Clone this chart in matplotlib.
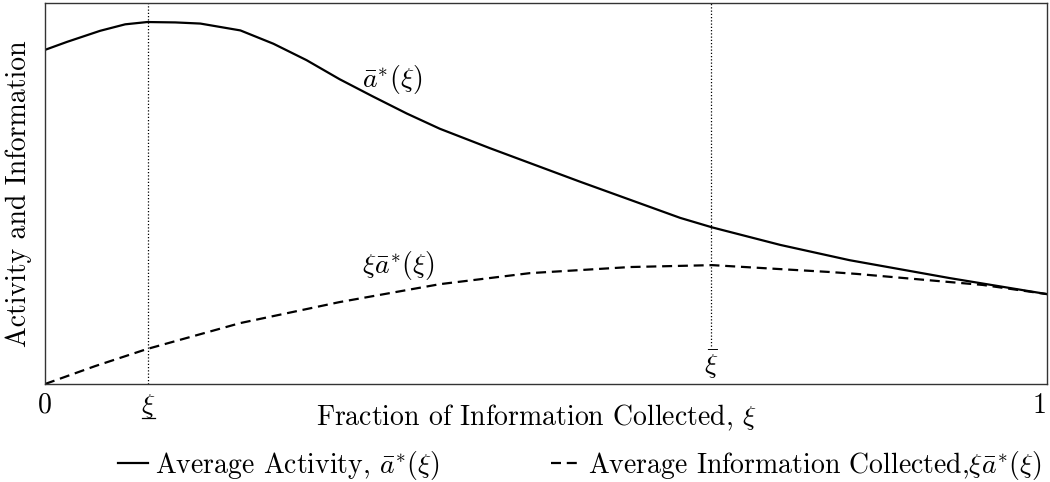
import matplotlib
matplotlib.use("Agg")
import matplotlib.pyplot as plt
import matplotlib.transforms as mtransforms

plt.rcParams['font.family'] = 'serif'
plt.rcParams['font.serif'] = ['cmr10']
plt.rcParams['mathtext.fontset'] = 'cm'
plt.rcParams['axes.formatter.use_mathtext'] = True

# values (y scaled so the top of the box is 1)
xi_act = [0.0, 0.022, 0.055, 0.080, 0.102, 0.130, 0.155, 0.195, 0.228, 0.261,
          0.294, 0.327, 0.361, 0.394, 0.444, 0.534, 0.634, 0.666, 0.734,
          0.803, 0.903, 1.0]
activity = [0.877, 0.898, 0.927, 0.944, 0.950, 0.949, 0.946, 0.928, 0.893, 0.850,
            0.800, 0.755, 0.710, 0.670, 0.619, 0.531, 0.436, 0.411, 0.365,
            0.325, 0.278, 0.236]

xi_info = [0.0, 0.050, 0.102, 0.195, 0.294, 0.394, 0.484, 0.584, 0.666, 0.783,
           0.810, 0.936, 1.0]
information = [0.0, 0.047, 0.092, 0.160, 0.215, 0.262, 0.291, 0.307, 0.312, 0.294,
               0.289, 0.260, 0.236]

xi_low = 0.103
xi_high = 0.665

FS = 20

fig = plt.figure(figsize=(10.5, 4.82), dpi=100)
ax = fig.add_axes([0.0429, 0.2033, 0.9541, 0.7905])

ax.plot(xi_act, activity, color='black', lw=1.6, label=r'Average Activity, $\bar{a}^{*}(\xi)$')
ax.plot(xi_info, information, color='black', lw=1.6, ls=(0, (4.5, 2.6)),
        label=r'Average Information Collected,$\xi\bar{a}^{*}(\xi)$')

ax.axvline(xi_low, color='black', lw=0.9, ls=(0, (1, 1.6)))
ax.axvline(xi_high, ymin=0.10, ymax=1, color='black', lw=0.9, ls=(0, (1, 1.6)))

ax.text(0.316, 0.80, r'$\bar{a}^{*}(\xi)$', fontsize=FS, va='center')
ax.text(0.316, 0.312, r'$\xi\bar{a}^{*}(\xi)$', fontsize=FS, va='center')
ax.text(xi_high, 0.05, r'$\bar{\xi}$', fontsize=FS, ha='center', va='center')

ax.set_xlim(0, 1)
ax.set_ylim(0, 1)
ax.set_yticks([])
ax.set_xticks([0, xi_low, 1])
ax.set_xticklabels(['0', r'$\xi$', '1'], fontsize=FS)
ax.get_xticklabels()[2].set_ha('right')
ax.tick_params(axis='x', length=0, pad=6)
# underline for the lower threshold label
trans = mtransforms.blended_transform_factory(ax.transData, ax.transAxes)
ax.plot([xi_low - 0.0065, xi_low + 0.0065], [-0.089, -0.089], color='black',
        lw=0.9, transform=trans, clip_on=False)
ax.set_xlabel(r'Fraction of Information Collected, $\xi$', fontsize=FS)
ax.xaxis.set_label_coords(0.49, -0.05)
ax.set_ylabel('Activity and Information', fontsize=FS)
ax.yaxis.set_label_coords(-0.013, 0.499)
for s in ax.spines.values():
    s.set_linewidth(1.0)
    s.set_color('#333333')

fig.legend(loc='center left', bbox_to_anchor=(0.112, 0.035), ncol=2, frameon=False,
           fontsize=FS, handlelength=1.1, handletextpad=0.25, columnspacing=4.0,
           borderpad=0, borderaxespad=0)

fig.savefig('out.png', dpi=100)
